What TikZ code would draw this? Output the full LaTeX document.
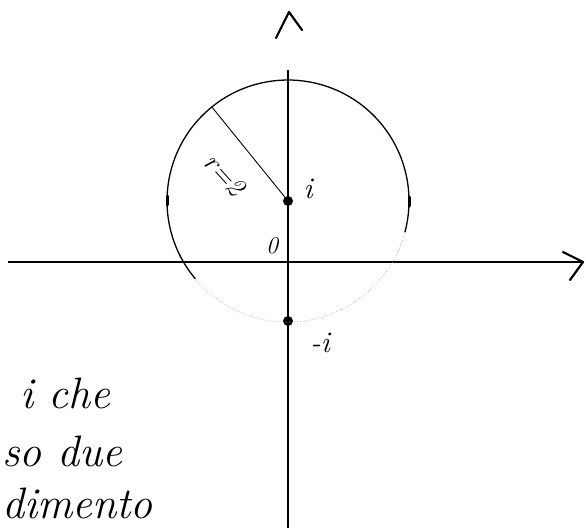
\documentclass[tikz,border=0pt]{standalone}
\usepackage{fontspec}
\usetikzlibrary{calc}
\begin{document}
\begin{tikzpicture}[x=1pt,y=-1pt,
  axis/.style={line width=1.6pt,black},
  chev/.style={line width=2.2pt,line cap=round,line join=round},
  curve/.style={line width=1.3pt},
  faint/.style={line width=0.7pt,gray!70,dotted},
  radline/.style={line width=0.9pt},
  dot/.style={circle,fill=black,inner sep=0pt,minimum size=10pt},
  lab/.style={inner sep=0pt,font=\fontsize{30}{30}\selectfont\itshape},
  hand/.style={inner sep=0pt,anchor=base west,font=\fontsize{44}{44}\selectfont\itshape}]
\useasboundingbox (0,0) rectangle (586,528);
% axes
\coordinate (xl) at (8,262);
\coordinate (xr) at (582,262);
\coordinate (yt) at (288,70);
\coordinate (yb) at (288,528);
\draw[axis] (xl) -- (xr);
\draw[axis] (yt) -- (yb);
% arrow chevrons
\coordinate (ta) at (276,38);
\coordinate (tb) at (289,12);
\coordinate (tc) at (302,30);
\draw[chev] (ta) -- (tb) -- (tc);
\coordinate (ra) at (563,252);
\coordinate (rb) at (583,262);
\coordinate (rc) at (570,280);
\draw[chev] (ra) -- (rb) -- (rc);
% points
\node[dot] (pi) at (288,201) {};
\node[dot] (mi) at (288,321) {};
% circle
\draw[curve] (288,201) ++(140:121) arc[start angle=140,end angle=375,radius=121];
\draw[faint] (288,201) ++(15:121) arc[start angle=15,end angle=140,radius=121];
% small marks on the circle
\draw[line width=3pt,line cap=round] (167,196) -- (167,205);
\draw[line width=3pt,line cap=round] (409,197) -- (409,206);
% radius
\coordinate (rp) at ($(288,201)+(231:121)$);
\draw[radline] (pi.center) -- (rp);
\node[lab,rotate=-48,font=\fontsize{28}{28}\selectfont\itshape] (rlab) at (225,175) {r=2};
% labels
\node[lab] (li) at (308,189) {i};
\node[lab,font=\fontsize{24}{24}\selectfont\itshape] (l0) at (272,246) {0};
\node[lab] (lmi) at (320,343) {-i};
% text on the left
\node[hand] (t1) at (20,408) {i che};
\node[hand] (t2) at (2,466) {so due};
\node[hand] (t3) at (2,518) {dimento};
\end{tikzpicture}
\end{document}
